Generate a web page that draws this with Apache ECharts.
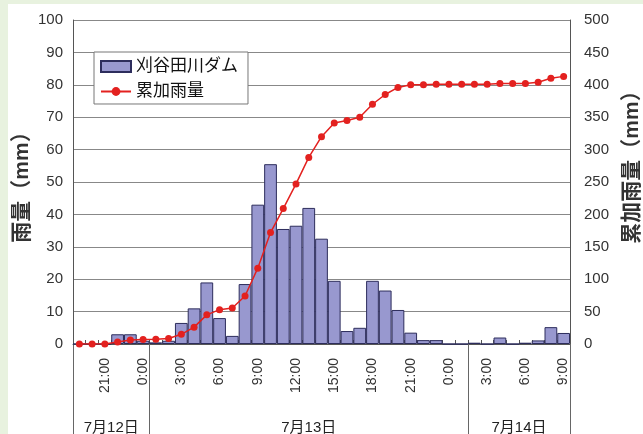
<!DOCTYPE html>
<html><head><meta charset="utf-8">
<script src="https://cdn.jsdelivr.net/npm/echarts@6/dist/echarts.min.js"></script>
<style>
html,body{margin:0;padding:0;width:643px;height:434px;overflow:hidden;background:#e8f2df;}
#c{position:absolute;left:8px;top:4px;width:635px;height:430px;background:#fff;}
</style></head><body><div id="c"></div>
<script>
// hourly categories (19:00 on 7/12 through 9:00 on 7/14)
const hours = ['19:00','20:00','21:00','22:00','23:00','0:00',
  '1:00','2:00','3:00','4:00','5:00','6:00','7:00','8:00','9:00','10:00','11:00','12:00',
  '13:00','14:00','15:00','16:00','17:00','18:00','19:00','20:00','21:00','22:00','23:00','0:00',
  '1:00','2:00','3:00','4:00','5:00','6:00','7:00','8:00','9:00'];
// hourly rainfall (mm)
const rainfall = [0,0,0,3,3,1,0.5,1,6.5,11,19,8,2.5,18.5,43,55.5,35.5,36.5,42,32.5,19.5,4,5,19.5,16.5,10.5,3.5,1.2,1.2,0,0,0.4,0,2,0,0.4,1.1,5.2,3.4];
// cumulative rainfall (mm)
const cumulative = [0,0,0,3,6,7,7.5,8.5,15,26,45,53,55.5,74,117,172,209,247,288,320,341,345,350,370,385,396,400,400,401,401,401,401,401,402,402,402,404,410,413];
// day labels and the category index where each day block starts
const dayLabels = ['7月12日','7月13日','7月14日'];
const dayStarts = [0, 6, 31];

const FONT = "'Liberation Sans','Noto Sans CJK JP',sans-serif";
const dayBounds = dayStarts.concat([hours.length]);
const dayCenters = dayLabels.map((d, i) => (dayBounds[i] + dayBounds[i + 1]) / 2);

const chart = echarts.init(document.getElementById('c'), null, {renderer: 'canvas'});
chart.setOption({
  animation: false,
  textStyle: {fontFamily: FONT},
  grid: {left: 65, right: 73, top: 16, bottom: 90, containLabel: false, outerBoundsMode: 'none'},
  legend: {
    orient: 'vertical', left: 86, top: 48,
    backgroundColor: '#fff', borderColor: '#777', borderWidth: 1,
    padding: [6, 10, 4, 6], itemGap: 8, itemWidth: 30, itemHeight: 11,
    textStyle: {fontSize: 17, color: '#111', fontFamily: FONT},
    data: [
      {name: '刈谷田川ダム', icon: 'rect'},
      {name: '累加雨量'}
    ]
  },
  xAxis: [
    {
      type: 'category', data: hours, boundaryGap: true, position: 'bottom',
      axisLine: {show: true, lineStyle: {color: '#555'}},
      axisTick: {show: true, inside: true, length: 4, interval: 0, lineStyle: {color: '#555'}},
      axisLabel: {interval: (i) => i % 3 === 2, rotate: 90, fontSize: 14, color: '#333', margin: 14},
      splitLine: {show: false}
    },
    {
      type: 'value', min: 0, max: hours.length, position: 'bottom', gridIndex: 0,
      axisLine: {show: false},
      axisTick: {show: true, customValues: dayBounds, length: 92, inside: false, lineStyle: {color: '#666'}},
      axisLabel: {
        customValues: dayCenters, margin: 76, fontSize: 15, color: '#222',
        formatter: (v) => { const k = dayCenters.indexOf(v); return k >= 0 ? dayLabels[k] : ''; }
      },
      splitLine: {show: false}
    }
  ],
  yAxis: [
    {
      type: 'value', min: 0, max: 100, interval: 10, position: 'left',
      axisLine: {show: true, lineStyle: {color: '#555'}},
      axisTick: {show: false},
      axisLabel: {fontSize: 15, color: '#333', margin: 10},
      splitLine: {show: true, lineStyle: {color: '#888', width: 1}},
      name: '雨量（mm）', nameLocation: 'middle', nameGap: 40, nameRotate: 90, nameMoveOverlap: false,
      nameTextStyle: {fontSize: 21, color: '#333', fontWeight: 'bold', fontFamily: FONT}
    },
    {
      type: 'value', min: 0, max: 500, interval: 50, position: 'right',
      axisLine: {show: true, lineStyle: {color: '#555'}},
      axisTick: {show: false},
      axisLabel: {fontSize: 15, color: '#333', margin: 14},
      splitLine: {show: false},
      name: '累加雨量（mm）', nameLocation: 'middle', nameGap: 52, nameRotate: 90, nameMoveOverlap: false,
      nameTextStyle: {fontSize: 21, color: '#333', fontWeight: 'bold', fontFamily: FONT, padding: [0, 0, 0, 40]}
    }
  ],
  series: [
    {
      type: 'bar', name: '刈谷田川ダム', data: rainfall, xAxisIndex: 0, yAxisIndex: 0,
      barCategoryGap: '0%',
      itemStyle: {color: '#9898cf', borderColor: '#2d2d5c', borderWidth: 1}
    },
    {
      type: 'line', name: '累加雨量', data: cumulative, xAxisIndex: 0, yAxisIndex: 1,
      symbol: 'circle', symbolSize: 7, z: 5,
      lineStyle: {color: '#e3211f', width: 1.5},
      itemStyle: {color: '#e3211f'}
    }
  ]
});
</script></body></html>
